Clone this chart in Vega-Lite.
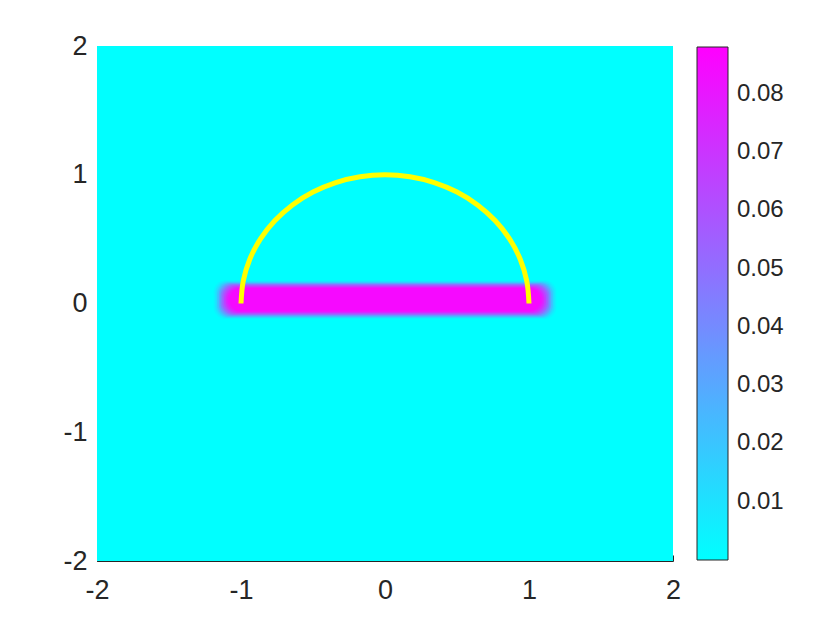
{
  "$schema": "https://vega.github.io/schema/vega-lite/v6.json",
  "autosize": "none",
  "padding": {"left": 97, "top": 46, "right": 167, "bottom": 69},
  "width": 576,
  "height": 515,
  "background": "white",
  "config": {
    "view": {"stroke": null},
    "axis": {
      "grid": false,
      "domainColor": "#262626",
      "tickColor": "#262626",
      "tickSize": -6,
      "labelFont": "Liberation Sans",
      "labelFontSize": 27,
      "labelColor": "#262626",
      "labelFlush": false,
      "title": null,
      "zindex": 1
    }
  },
  "datasets": {
    "bg": [{"x": -2, "x2": 2, "y": -2, "y2": 2, "v": 0.0001}],
    "bar": [
      {"x": -1.19, "x2": 1.19, "y": -0.12, "y2": 0.18, "v": 0.004},
      {"x": -1.178, "x2": 1.178, "y": -0.113, "y2": 0.173, "v": 0.011},
      {"x": -1.166, "x2": 1.166, "y": -0.106, "y2": 0.166, "v": 0.021},
      {"x": -1.154, "x2": 1.154, "y": -0.099, "y2": 0.159, "v": 0.033},
      {"x": -1.142, "x2": 1.142, "y": -0.092, "y2": 0.152, "v": 0.045},
      {"x": -1.13, "x2": 1.13, "y": -0.085, "y2": 0.145, "v": 0.056},
      {"x": -1.118, "x2": 1.118, "y": -0.078, "y2": 0.138, "v": 0.066},
      {"x": -1.106, "x2": 1.106, "y": -0.071, "y2": 0.131, "v": 0.075},
      {"x": -1.094, "x2": 1.094, "y": -0.065, "y2": 0.125, "v": 0.081},
      {"x": -1.08, "x2": 1.08, "y": -0.060, "y2": 0.120, "v": 0.085}
    ],
    "arc": [
      {"i": 0, "x": 1, "y": 0},
      {"i": 1, "x": 0.9848, "y": 0.1736},
      {"i": 2, "x": 0.9397, "y": 0.342},
      {"i": 3, "x": 0.866, "y": 0.5},
      {"i": 4, "x": 0.766, "y": 0.6428},
      {"i": 5, "x": 0.6428, "y": 0.766},
      {"i": 6, "x": 0.5, "y": 0.866},
      {"i": 7, "x": 0.342, "y": 0.9397},
      {"i": 8, "x": 0.1736, "y": 0.9848},
      {"i": 9, "x": 0, "y": 1},
      {"i": 10, "x": -0.1736, "y": 0.9848},
      {"i": 11, "x": -0.342, "y": 0.9397},
      {"i": 12, "x": -0.5, "y": 0.866},
      {"i": 13, "x": -0.6428, "y": 0.766},
      {"i": 14, "x": -0.766, "y": 0.6428},
      {"i": 15, "x": -0.866, "y": 0.5},
      {"i": 16, "x": -0.9397, "y": 0.342},
      {"i": 17, "x": -0.9848, "y": 0.1736},
      {"i": 18, "x": -1, "y": 0}
    ]
  },
  "layer": [
    {
      "data": {"name": "bg"},
      "mark": {"type": "rect"},
      "encoding": {
        "x": {"field": "x", "type": "quantitative", "scale": {"domain": [-2, 2], "nice": false, "zero": false},
          "axis": {"values": [-2, -1, 0, 1, 2], "labelPadding": 22, "labelExpr": "datum.value < 0 ? '-' + abs(datum.value) : '' + datum.value"}},
        "x2": {"field": "x2"},
        "y": {"field": "y", "type": "quantitative", "scale": {"domain": [-2, 2], "nice": false, "zero": false},
          "axis": {"values": [-2, -1, 0, 1, 2], "labelPadding": 16, "labelExpr": "datum.value < 0 ? '-' + abs(datum.value) : '' + datum.value"}},
        "y2": {"field": "y2"},
        "color": {
          "field": "v", "type": "quantitative",
          "scale": {"domain": [0, 0.088], "range": ["#00ffff", "#ff00ff"], "interpolate": "rgb"},
          "legend": {
            "orient": "none",
            "legendX": 600,
            "legendY": 1,
            "direction": "vertical",
            "title": null,
            "gradientLength": 513,
            "gradientThickness": 31,
            "gradientStrokeColor": "#262626",
            "gradientStrokeWidth": 1,
            "values": [0.01, 0.02, 0.03, 0.04, 0.05, 0.06, 0.07, 0.08],
            "labelFont": "Liberation Sans",
            "labelFontSize": 24,
            "labelColor": "#262626",
            "labelOffset": 9,
            "labelOverlap": false,
            "padding": 0
          }
        }
      }
    },
    {
      "data": {"name": "bar"},
      "mark": {"type": "rect", "cornerRadius": 12},
      "encoding": {
        "x": {"field": "x", "type": "quantitative"},
        "x2": {"field": "x2"},
        "y": {"field": "y", "type": "quantitative"},
        "y2": {"field": "y2"},
        "color": {"field": "v", "type": "quantitative"}
      }
    },
    {
      "data": {"name": "arc"},
      "mark": {"type": "line", "color": "#ffff00", "strokeWidth": 5, "strokeCap": "butt", "interpolate": "cardinal"},
      "encoding": {
        "x": {"field": "x", "type": "quantitative"},
        "y": {"field": "y", "type": "quantitative"},
        "order": {"field": "i", "type": "quantitative"}
      }
    }
  ]
}
